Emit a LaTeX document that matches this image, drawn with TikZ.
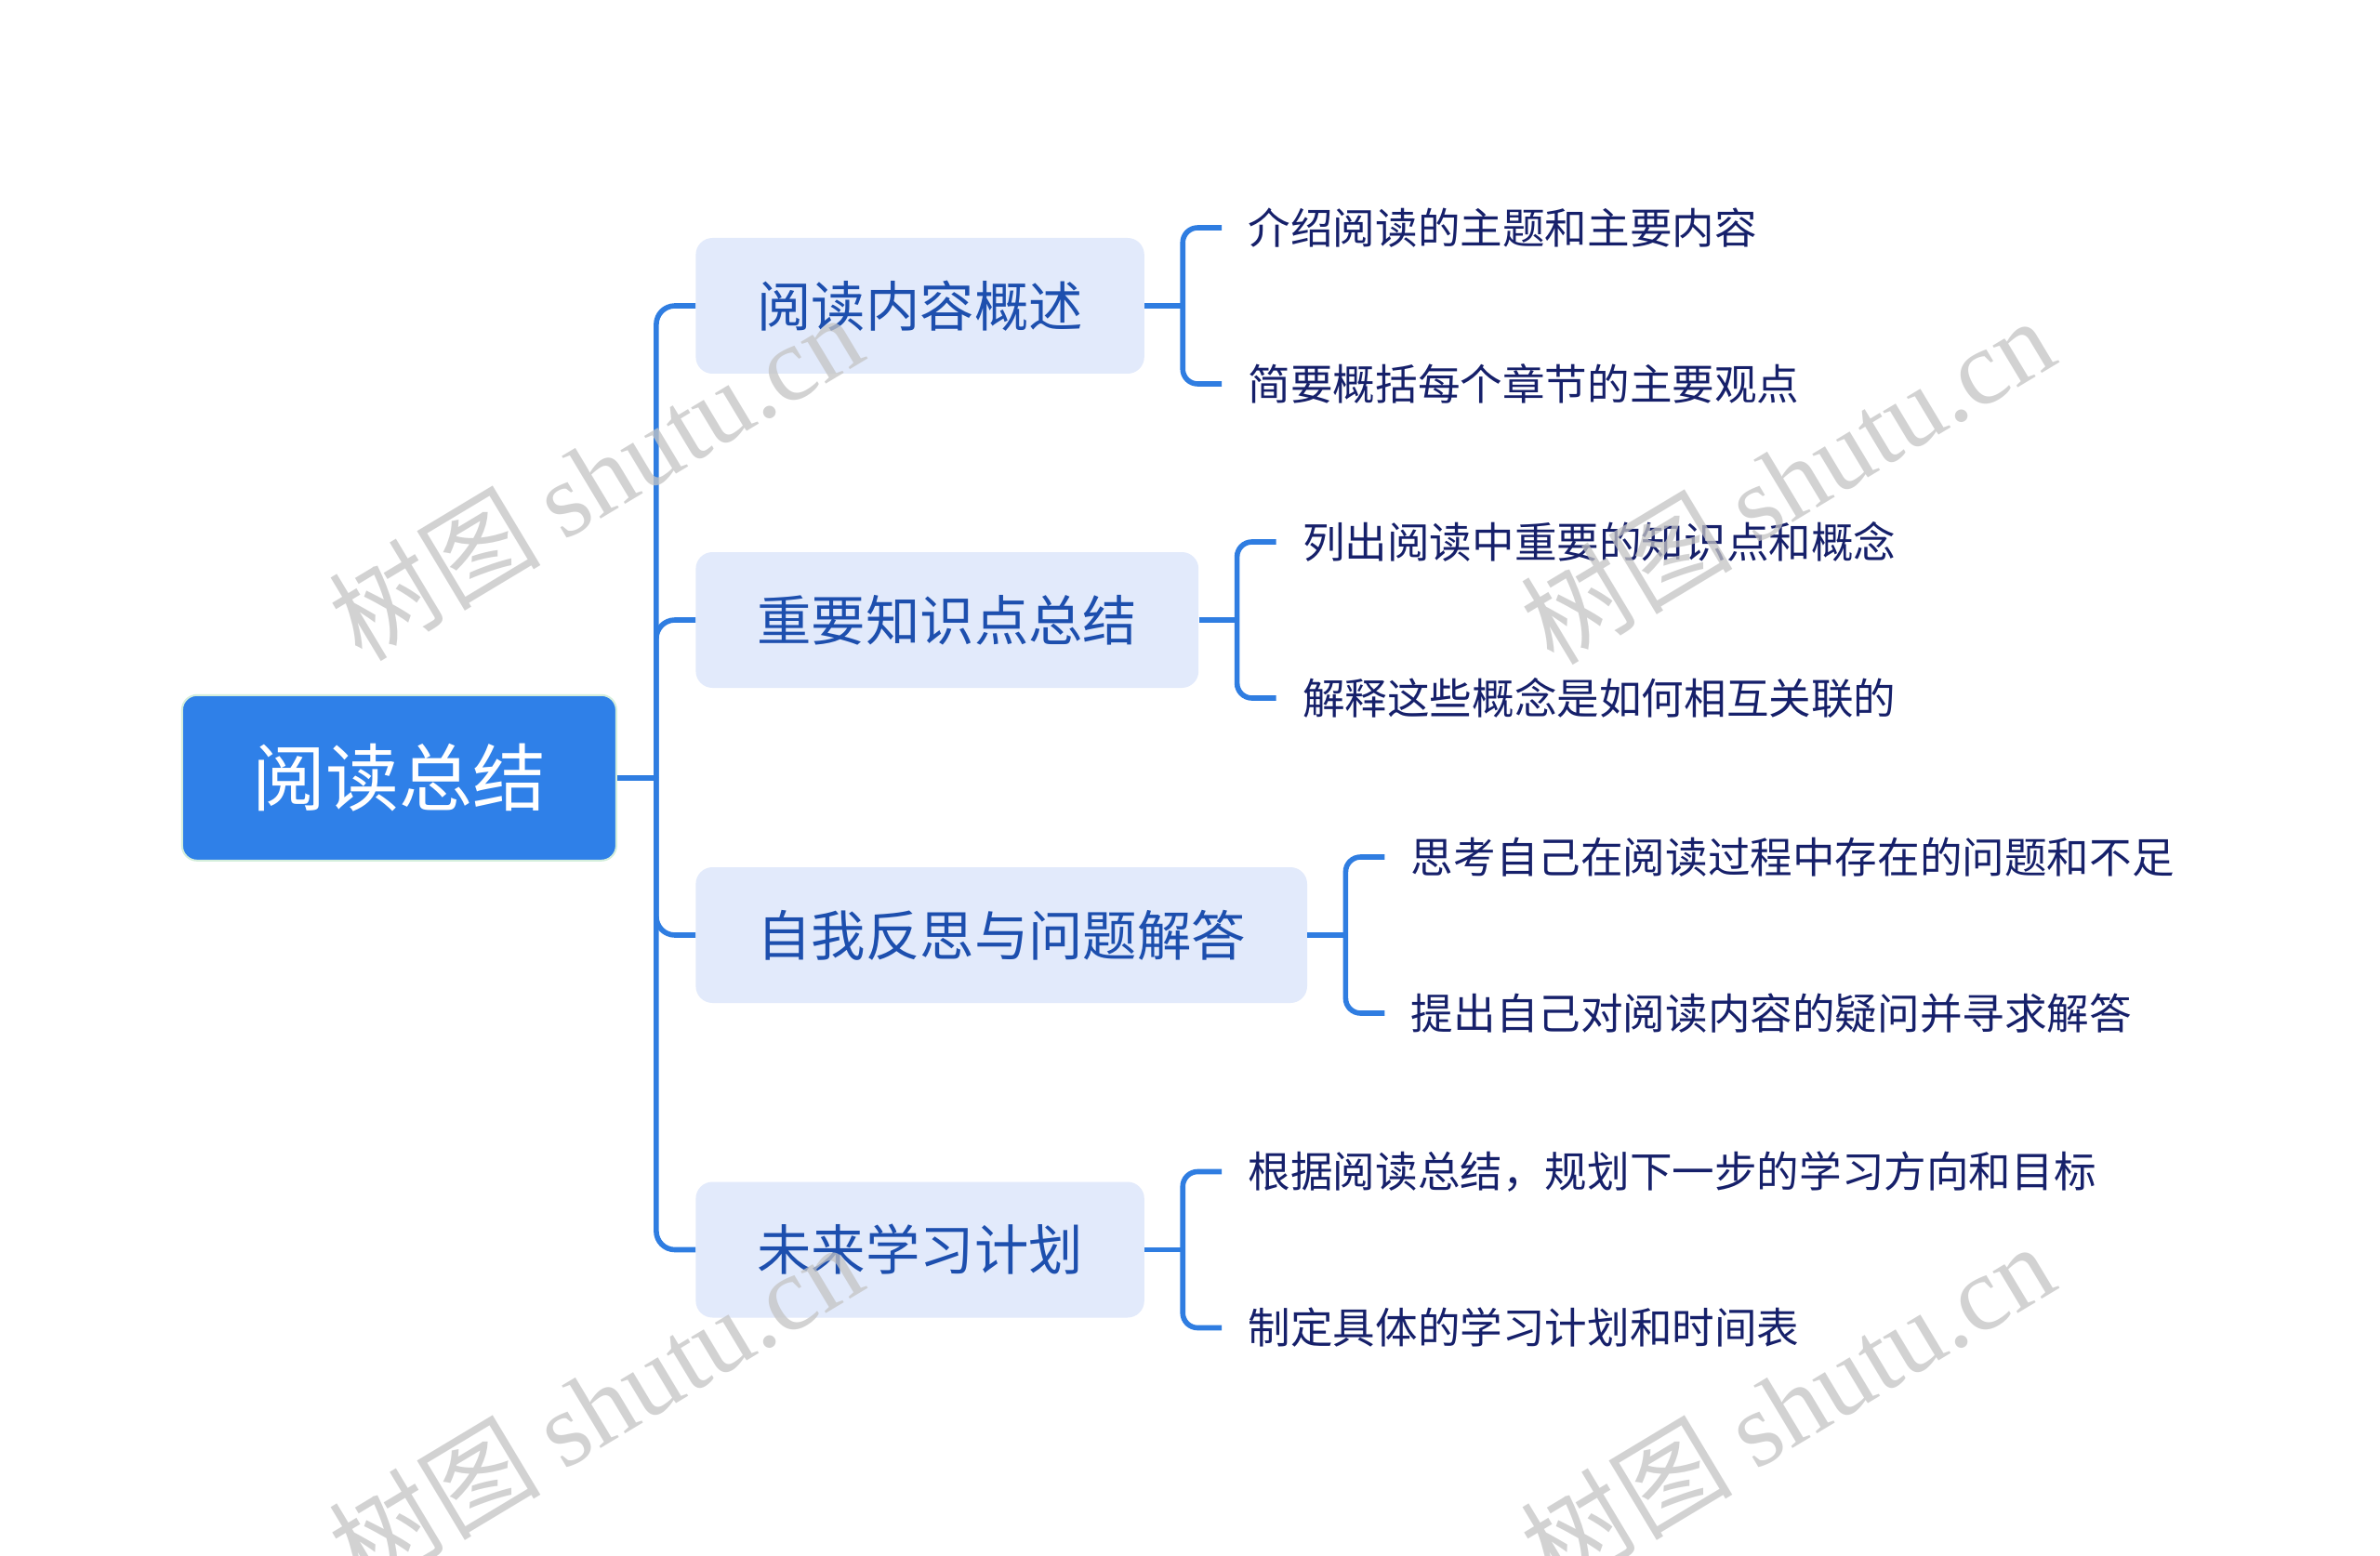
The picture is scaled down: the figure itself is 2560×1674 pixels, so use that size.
\documentclass[tikz,border=0pt]{standalone}
\usepackage{fontspec}
\newfontfamily\cjk{Noto Sans CJK SC}
\newfontfamily\wmserif{Liberation Serif}
\usetikzlibrary{calc}
\definecolor{rootblue}{HTML}{2F80E8}
\definecolor{linkblue}{HTML}{2F7DE1}
\definecolor{branchfill}{HTML}{E2EAFB}
\definecolor{branchtext}{HTML}{1D4FAE}
\definecolor{leaftext}{HTML}{16206A}
\definecolor{rootborder}{HTML}{D4EEDB}
\definecolor{wmgray}{HTML}{C4C4C4}
\begin{document}
\begin{tikzpicture}[x=0.5pt,y=-0.5pt,
  rootnode/.style={rectangle, rounded corners=8pt, fill=rootblue, draw=rootborder, line width=1pt,
    minimum width=233.5pt, minimum height=89pt, inner sep=0pt, text=white,
    font=\cjk\fontsize{39.5pt}{45pt}\selectfont},
  branchnode/.style={rectangle, rounded corners=9pt, fill=branchfill, minimum height=73pt,
    inner xsep=33pt, inner ysep=0pt, text=branchtext, anchor=west,
    font=\cjk\fontsize{29.2pt}{34pt}\selectfont},
  leafnode/.style={inner xsep=14pt, inner ysep=0pt, text=leaftext, anchor=west,
    font=\cjk\fontsize{22.8pt}{27pt}\selectfont},
  link/.style={draw=linkblue, line width=2.8pt},
  wm/.style={text=wmgray, opacity=0.75, rotate=31, inner sep=0pt,
    font=\cjk\fontsize{57pt}{64pt}\selectfont}
]
\useasboundingbox (0,0) rectangle (2560,1674);
\clip (0,0) rectangle (2560,1674);
\fill[white] (0,0) rectangle (2560,1674);

% root
\node[rootnode] (root) at (429.4,836.8) {阅读总结};
\coordinate (trunk) at ($(root.east)+(42,0)$);

% branches
\node[branchnode] (b1) at (748,329) {阅读内容概述};
\node[branchnode] (b2) at (748,667) {重要知识点总结};
\node[branchnode] (b3) at (748,1006) {自我反思与问题解答};
\node[branchnode] (b4) at (748,1344.5) {未来学习计划};

\draw[link] (root.east) -- (trunk);
\foreach \b in {b1,b2,b3,b4}{
  \draw[link, rounded corners=10pt] (trunk) |- (\b.west);
}

% leaf brackets
\coordinate (k1) at ($(b1.east)+(41,0)$);
\coordinate (k2) at ($(b2.east)+(41,0)$);
\coordinate (k3) at ($(b3.east)+(41,0)$);
\coordinate (k4) at ($(b4.east)+(41,0)$);

\node[leafnode] (l1a) at ($(k1)+(42,-84)$) {介绍阅读的主题和主要内容};
\node[leafnode] (l1b) at ($(k1)+(42,84)$) {简要概括每个章节的主要观点};
\node[leafnode] (l2a) at ($(k2)+(42,-84)$) {列出阅读中重要的知识点和概念};
\node[leafnode] (l2b) at ($(k2)+(42,84)$) {解释这些概念是如何相互关联的};
\node[leafnode] (l3a) at ($(k3)+(42,-84)$) {思考自己在阅读过程中存在的问题和不足};
\node[leafnode] (l3b) at ($(k3)+(42,84)$) {提出自己对阅读内容的疑问并寻求解答};
\node[leafnode] (l4a) at ($(k4)+(42,-84)$) {根据阅读总结，规划下一步的学习方向和目标};
\node[leafnode] (l4b) at ($(k4)+(42,84)$) {制定具体的学习计划和时间表};

\foreach \i in {1,2,3,4}{
  \draw[link] (b\i.east) -- (k\i);
  \draw[link, rounded corners=8pt] (l\i a.west) -| (k\i) |- (l\i b.west);
}

% watermarks
\node[wm] (w1) at (640,512) {树图 {\wmserif shutu.cn}};
\node[wm] (w2) at (1922,516) {树图 {\wmserif shutu.cn}};
\node[wm] (w3) at (640,1512) {树图 {\wmserif shutu.cn}};
\node[wm] (w4) at (1922,1512) {树图 {\wmserif shutu.cn}};
\end{tikzpicture}
\end{document}
